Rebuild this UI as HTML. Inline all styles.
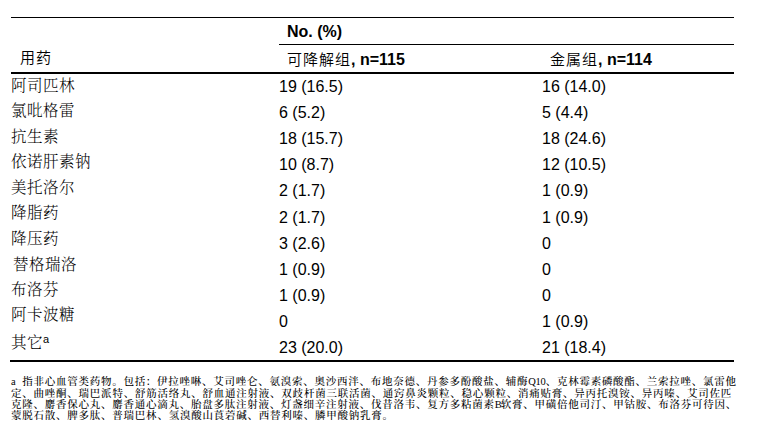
<!DOCTYPE html>
<html lang="zh-CN">
<head>
<meta charset="utf-8">
<title>用药</title>
<style>
html,body{margin:0;padding:0;background:#fff;}
body{width:774px;height:441px;overflow:hidden;position:relative;}
.t{position:absolute;white-space:nowrap;color:#000;line-height:20px;}
.c{font-family:"Liberation Sans","Noto Sans CJK SC",sans-serif;font-size:16px;font-weight:350;}
.s{font-family:"Liberation Serif","Noto Serif CJK SC",serif;font-size:15.5px;letter-spacing:0.5px;font-weight:300;}
.n{font-family:"Liberation Sans",sans-serif;font-size:16px;}
.b{font-weight:bold;}
.hz{font-size:15px;letter-spacing:1px;}
.sup{font-family:"Liberation Sans",sans-serif;font-size:11px;letter-spacing:0;position:relative;top:-5px;}
.ln{position:absolute;background:#000;height:1px;}
.fl{position:absolute;left:11px;white-space:nowrap;font-family:"Liberation Serif","Noto Serif CJK SC",serif;font-size:10.5px;line-height:12px;letter-spacing:0.7px;color:#000;font-weight:500;}
.la{letter-spacing:1.95px;}
.lq{letter-spacing:-0.2px;}
.lb{letter-spacing:-1px;}
</style>
</head>
<body>
<div class="ln" style="left:11px;top:17px;width:723px;"></div>
<div class="ln" style="left:279px;top:44px;width:455px;"></div>
<div class="ln" style="left:11px;top:72px;width:723px;height:2px;"></div>
<div class="ln" style="left:10px;top:360px;width:724px;height:2px;"></div>

<div class="t n b" style="left:287px;top:22px;">No. (%)</div>
<div class="t c" style="left:20px;top:48px;"><span class="hz">用药</span></div>
<div class="t c" style="left:287px;top:50px;"><span class="hz">可降解组</span><b>, n=115</b></div>
<div class="t c" style="left:550px;top:50px;"><span class="hz">金属组</span><b>, n=114</b></div>

<div class="t s" style="left:11px;top:76px;">阿司匹林</div>
<div class="t s" style="left:11px;top:101px;">氯吡格雷</div>
<div class="t s" style="left:11px;top:127px;">抗生素</div>
<div class="t s" style="left:11px;top:152px;">依诺肝素钠</div>
<div class="t s" style="left:11px;top:178px;">美托洛尔</div>
<div class="t s" style="left:11px;top:203px;">降脂药</div>
<div class="t s" style="left:11px;top:229px;">降压药</div>
<div class="t s" style="left:13px;top:255px;">替格瑞洛</div>
<div class="t s" style="left:11px;top:280px;">布洛芬</div>
<div class="t s" style="left:11px;top:305px;">阿卡波糖</div>
<div class="t s" style="left:11px;top:333px;">其它<span class="sup">a</span></div>
<div class="t n" style="left:279px;top:77px;">19 (16.5)</div>
<div class="t n" style="left:279px;top:103px;">6 (5.2)</div>
<div class="t n" style="left:279px;top:129px;">18 (15.7)</div>
<div class="t n" style="left:279px;top:155px;">10 (8.7)</div>
<div class="t n" style="left:279px;top:181px;">2 (1.7)</div>
<div class="t n" style="left:279px;top:208px;">2 (1.7)</div>
<div class="t n" style="left:279px;top:234px;">3 (2.6)</div>
<div class="t n" style="left:279px;top:260px;">1 (0.9)</div>
<div class="t n" style="left:279px;top:286px;">1 (0.9)</div>
<div class="t n" style="left:279px;top:312px;">0</div>
<div class="t n" style="left:279px;top:338px;">23 (20.0)</div>
<div class="t n" style="left:542px;top:77px;">16 (14.0)</div>
<div class="t n" style="left:542px;top:103px;">5 (4.4)</div>
<div class="t n" style="left:542px;top:129px;">18 (24.6)</div>
<div class="t n" style="left:542px;top:155px;">12 (10.5)</div>
<div class="t n" style="left:542px;top:181px;">1 (0.9)</div>
<div class="t n" style="left:542px;top:208px;">1 (0.9)</div>
<div class="t n" style="left:542px;top:234px;">0</div>
<div class="t n" style="left:542px;top:260px;">0</div>
<div class="t n" style="left:542px;top:286px;">0</div>
<div class="t n" style="left:542px;top:312px;">1 (0.9)</div>
<div class="t n" style="left:542px;top:338px;">21 (18.4)</div>

<div class="fl" style="top:376px;letter-spacing:0.744px;"><span class="la">a </span>指非心血管类药物。包括：伊拉唑啉、艾司唑仑、氨溴索、奥沙西泮、布地奈德、丹参多酚酸盐、辅酶<span class="lq">Q10</span>、克林霉素磷酸酯、兰索拉唑、氯雷他</div>
<div class="fl" style="top:387.5px;letter-spacing:0.765px;">定、曲唑酮、瑞巴派特、舒筋活络丸、舒血通注射液、双歧杆菌三联活菌、通窍鼻炎颗粒、稳心颗粒、消痛贴膏、异丙托溴铵、异丙嗪、艾司佐匹</div>
<div class="fl" style="top:399px;letter-spacing:0.751px;">克隆、麝香保心丸、麝香通心滴丸、胎盘多肽注射液、灯盏细辛注射液、伐昔洛韦、复方多粘菌素<span class="lb">B</span>软膏、甲磺倍他司汀、甲钴胺、布洛芬可待因、</div>
<div class="fl" style="top:410px;letter-spacing:0.76px;">蒙脱石散、脾多肽、普瑞巴林、氢溴酸山莨菪碱、西替利嗪、膦甲酸钠乳膏。</div>
</body>
</html>
